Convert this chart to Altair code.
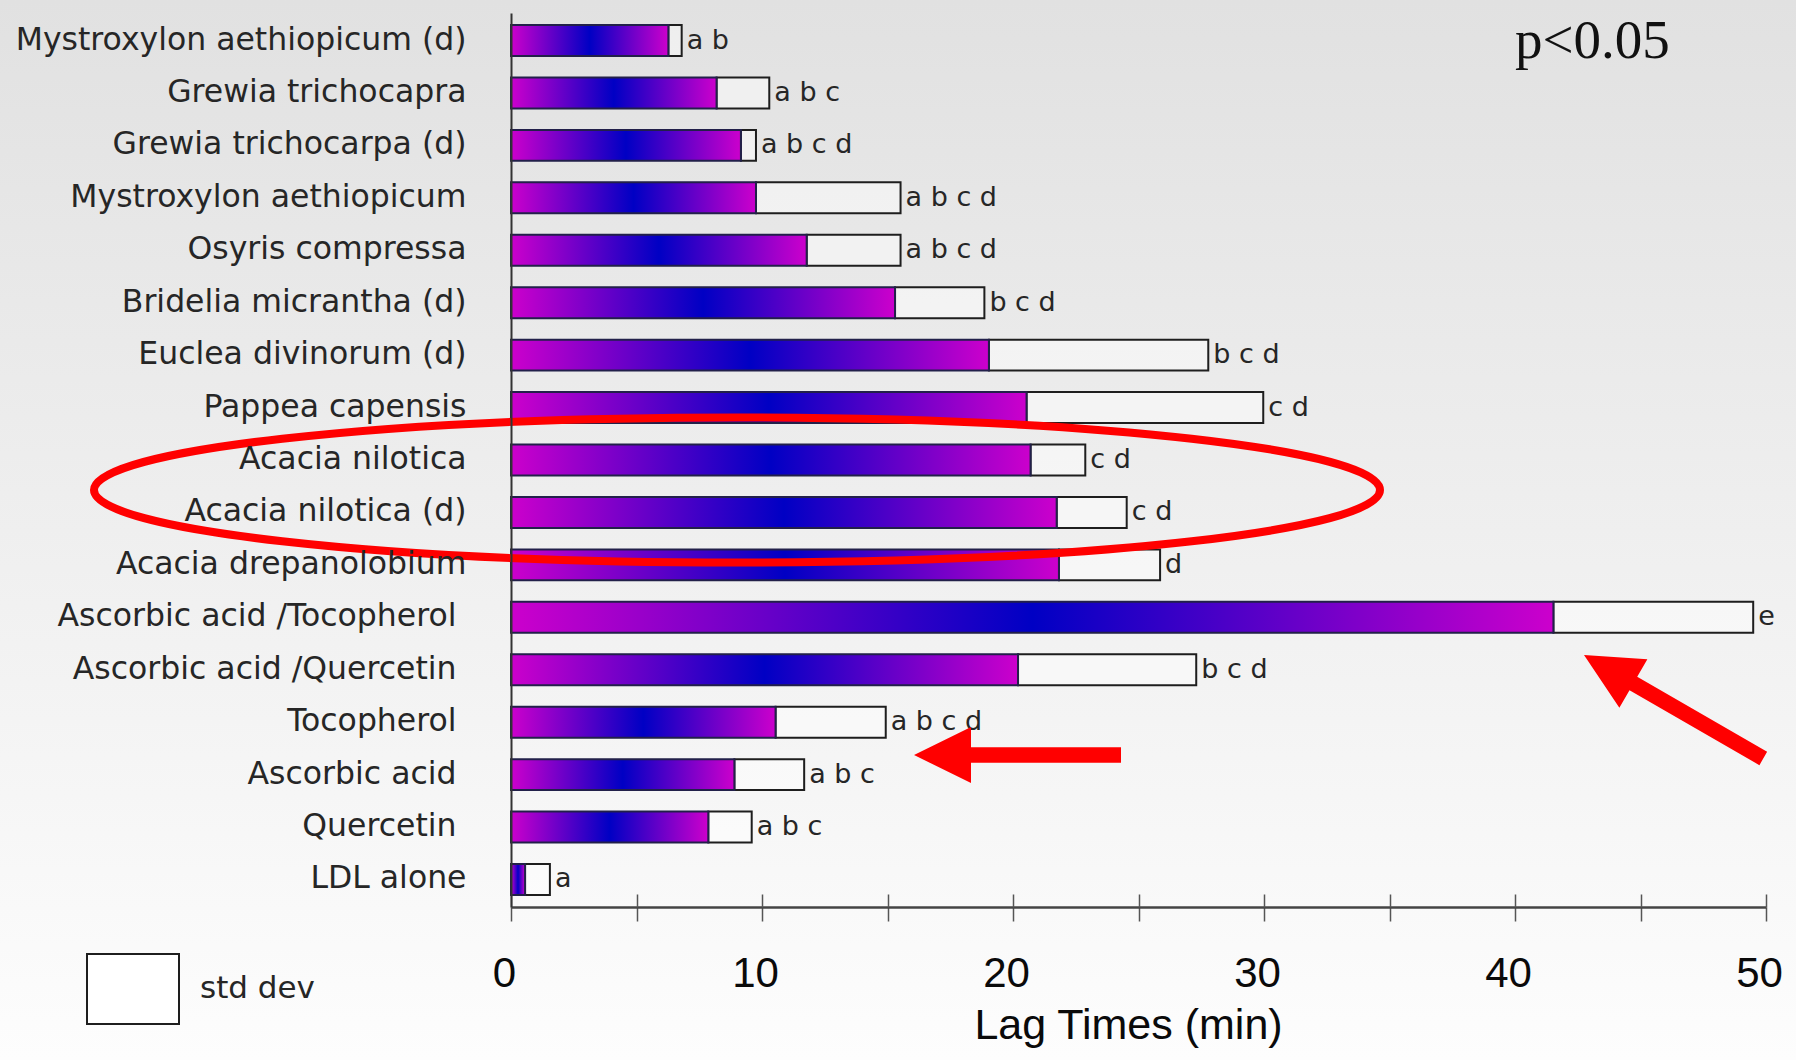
import altair as alt
import pandas as pd

# ---------------- data ----------------
categories = [
    "Mystroxylon aethiopicum (d)",
    "Grewia trichocapra",
    "Grewia trichocarpa (d)",
    "Mystroxylon aethiopicum",
    "Osyris compressa",
    "Bridelia micrantha (d)",
    "Euclea divinorum (d)",
    "Pappea capensis",
    "Acacia nilotica",
    "Acacia nilotica (d)",
    "Acacia drepanolobium",
    "Ascorbic acid /Tocopherol",
    "Ascorbic acid /Quercetin",
    "Tocopherol",
    "Ascorbic acid",
    "Quercetin",
    "LDL alone",
]
mean_lag = [6.27, 8.19, 9.16, 9.76, 11.78, 15.30, 19.04, 20.54, 20.70, 21.74,
            21.83, 41.53, 20.20, 10.54, 8.90, 7.86, 0.56]
std_dev = [0.53, 2.10, 0.60, 5.76, 3.74, 3.56, 8.74, 9.43, 2.18, 2.79,
           4.03, 7.96, 7.10, 4.39, 2.78, 1.73, 0.99]
groups = ["a b", "a b c", "a b c d", "a b c d", "a b c d", "b c d", "b c d",
          "c d", "c d", "c d", "d", "e", "b c d", "a b c d", "a b c", "a b c", "a"]
x_ticks = [0, 5, 10, 15, 20, 25, 30, 35, 40, 45, 50]
p_note = ["p<0.05"]
p_note_x = [40.0]
# labels that sit a little further from the axis in the original
shifted_labels = ["Ascorbic acid /Tocopherol", "Ascorbic acid /Quercetin",
                  "Tocopherol", "Ascorbic acid", "Quercetin"]

# ---------------- layout ----------------
W, H = 1255, 894          # plot area
OX, OY = 511, 13          # plot origin inside the 1796x1060 canvas
CW, CH = 1796, 1060

df = pd.DataFrame({"sample": categories, "mean": mean_lag, "sd": std_dev, "group": groups})
df["upper"] = df["mean"] + df["sd"]
df["kind"] = "std dev"

xscale = alt.Scale(domain=[0, 50], nice=False, zero=True)
xscale2 = alt.Scale(domain=[0, 50], nice=False, zero=True)
yscale = alt.Scale(domain=categories, paddingInner=0.41, paddingOuter=0.23)

shift_test = "indexof([" + ",".join("'" + s + "'" for s in shifted_labels) + "], datum.value) >= 0"

y_enc = alt.Y(
    "sample:N", scale=yscale, sort=categories,
    axis=alt.Axis(title=None, labelFont="DejaVu Sans", labelFontSize=31.5,
                  labelColor="#262626",
                  labelPadding={"condition": {"test": shift_test, "value": 55}, "value": 45},
                  ticks=False, domainColor="#333333", domainWidth=2, labelLimit=700,
                  grid=False, zindex=1),
)

x_axis = alt.Axis(
    values=x_ticks, labelExpr="datum.value % 10 === 0 ? datum.label : ''",
    labelFont="Liberation Sans", labelFontSize=42, labelFontWeight="normal",
    labelColor="#0a0a0a",
    labelPadding=32, labelOffset=-7, labelFlush=False, labelOverlap=False,
    tickSize=14, tickColor="#555555", tickWidth=1.5,
    domainColor="#444444", domainWidth=2.5,
    title="Lag Times (min)", titleFont="Liberation Sans", titleFontSize=43,
    titleFontWeight="normal", titleColor="#0a0a0a", titlePadding=10, titleX=617,
    grid=False, zindex=1,
)

one = pd.DataFrame({"k": [0]})

bg = alt.Chart(one).mark_rect(
    fill={"gradient": "linear", "x1": 0, "y1": 0, "x2": 0, "y2": 1,
          "stops": [{"offset": 0, "color": "#e1e1e1"}, {"offset": 1, "color": "#fdfdfd"}]}
).encode(x=alt.value(-OX), x2=alt.value(CW - OX), y=alt.value(-OY), y2=alt.value(CH - OY))

sd_box = alt.Chart(df).mark_bar(stroke="#1e1e1e", strokeWidth=2, fillOpacity=0.45).encode(
    x=alt.X("mean:Q", scale=xscale, axis=x_axis),
    x2="upper:Q",
    y=y_enc,
    fill=alt.Fill(
        "kind:N", scale=alt.Scale(domain=["std dev"], range=["#ffffff"]),
        legend=alt.Legend(title=None, orient="none", legendX=-425, legendY=929,
                          symbolType="M-1,-0.76L1,-0.76L1,0.76L-1,0.76Z",
                          symbolSize=8464, symbolStrokeColor="#1e1e1e",
                          symbolStrokeWidth=2, labelFont="DejaVu Sans",
                          labelFontSize=31, labelColor="#262626", labelOffset=20,
                          padding=0),
    ),
)

mean_bar = alt.Chart(df).mark_bar(
    fill={"gradient": "linear", "x1": 0, "y1": 0, "x2": 1, "y2": 0,
          "stops": [{"offset": 0, "color": "#cc00cc"},
                    {"offset": 0.5, "color": "#0000c4"},
                    {"offset": 1, "color": "#cc00cc"}]},
    stroke="#22204a", strokeWidth=2,
).encode(x=alt.X("mean:Q", scale=xscale), y=y_enc)

letters = alt.Chart(df).mark_text(
    align="left", baseline="middle", dx=5, font="DejaVu Sans", fontSize=27, color="#262626"
).encode(x=alt.X("upper:Q", scale=xscale), y=y_enc, text="group:N")

pdf = pd.DataFrame({"t": p_note, "x": p_note_x, "sample": [categories[0]]})
ptext = alt.Chart(pdf).mark_text(
    align="left", baseline="middle", font="Liberation Serif", fontSize=55, color="#111111"
).encode(x=alt.X("x:Q", scale=xscale), y=y_enc, text="t:N")

# red annotations drawn over the chart
ellipse_path = "M-1,0A1,0.1128 0 1,0 1,0A1,0.1128 0 1,0 -1,0Z"
ellipse = alt.Chart(one).mark_point(
    shape=ellipse_path, size=(2 * 643) ** 2, filled=False, stroke="#ff0000",
    strokeWidth=8, opacity=1,
).encode(x=alt.value(737 - OX), y=alt.value(490 - OY))

arrow_path = "M0,0L57,-28L57,-7.7L207,-7.7L207,7.7L57,7.7L57,28Z"
arrow1 = alt.Chart(one).mark_point(
    shape=arrow_path, size=4, filled=True, fill="#ff0000", strokeWidth=0, opacity=1,
).encode(x=alt.value(914 - OX), y=alt.value(755 - OY))
arrow2 = alt.Chart(one).mark_point(
    shape=arrow_path, size=4, filled=True, fill="#ff0000", strokeWidth=0, opacity=1,
    angle=30,
).encode(x=alt.value(1584 - OX), y=alt.value(655 - OY))

main = alt.layer(bg, sd_box, mean_bar, letters, ptext, ellipse, arrow1, arrow2)

# second x axis (same domain) giving the upper halves of the crossing tick marks
upper_ticks = alt.Chart(df).mark_text(text="", opacity=0).encode(
    x=alt.X("upper:Q", scale=xscale2,
            axis=alt.Axis(orient="top", offset=-H, values=x_ticks, labels=False,
                          domain=False, tickSize=13, tickColor="#555555",
                          tickWidth=1.5, title=None, grid=False, zindex=1)),
    y=y_enc,
)

chart = alt.layer(main, upper_ticks).resolve_scale(x="independent").properties(
    width=W, height=H, padding=0
).configure(background="#efefef").configure_view(strokeOpacity=0)

chart.save("out.html", embed_options={"renderer": "svg", "actions": False})
